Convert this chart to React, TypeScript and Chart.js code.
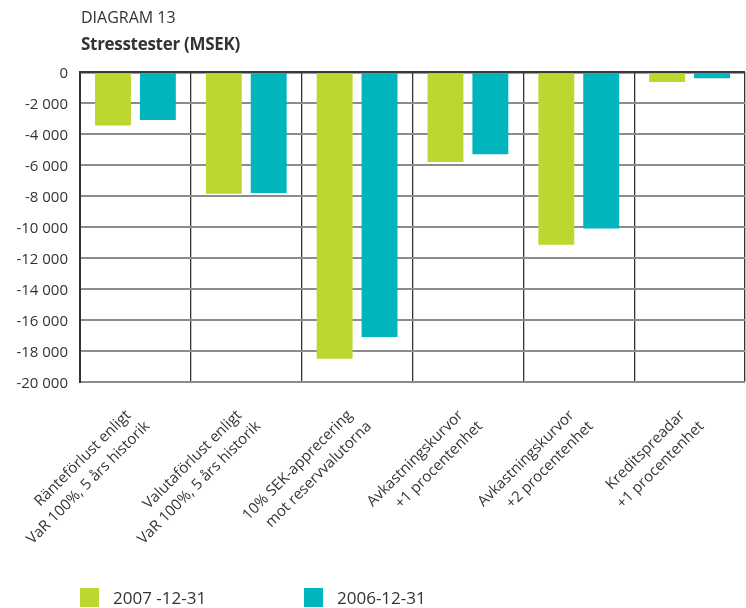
import React, { useEffect, useRef } from 'react';
import { Chart, registerables } from 'chart.js';

Chart.register(...registerables);

const categories: string[][] = [
  ['Ränteförlust enligt', 'VaR 100%, 5 års historik'],
  ['Valutaförlust enligt', 'VaR 100%, 5 års historik'],
  ['10% SEK-apprecering', 'mot reservvalutorna'],
  ['Avkastningskurvor', '+1 procentenhet'],
  ['Avkastningskurvor', '+2 procentenhet'],
  ['Kreditspreadar', '+1 procentenhet'],
];

const values2007 = [-3450, -7850, -18500, -5800, -11150, -650];
const values2006 = [-3100, -7800, -17100, -5300, -10100, -400];

const seriesNames = ['2007 -12-31', '2006-12-31'];
const seriesColors = ['#BED630', '#00B5BB'];

const titleText = 'DIAGRAM 13';
const subtitleText = 'Stresstester (MSEK)';

const yMin = -20000;
const yMax = 0;
const yStep = 2000;

const TEXT = '#333333';
const FONT = "'Open Sans', 'Noto Sans', sans-serif";

function fmt(v: number): string {
  const s = String(Math.abs(v)).replace(/\B(?=(\d{3})+(?!\d))/g, ' ');
  return v < 0 ? '-' + s : s;
}

const labelPlugin = {
  id: 'rotatedLabels',
  afterDraw(chart: any) {
    const ctx = chart.ctx;
    const xScale = chart.scales.x;
    const bottom = chart.chartArea.bottom;
    ctx.save();
    ctx.fillStyle = TEXT;
    ctx.font = `15px ${FONT}`;
    ctx.textAlign = 'right';
    ctx.textBaseline = 'alphabetic';
    categories.forEach((lines, i) => {
      const x = xScale.getPixelForTick(i);
      lines.forEach((line, j) => {
        ctx.save();
        ctx.translate(x - 4 + j * 19, bottom + 34 + j * 11);
        ctx.rotate(-Math.PI / 4);
        ctx.fillText(line, 0, 0);
        ctx.restore();
      });
    });
    ctx.restore();
  },
};

export default function App() {
  const ref = useRef<HTMLCanvasElement | null>(null);

  useEffect(() => {
    document.body.style.margin = '0';
    const canvas = ref.current;
    if (!canvas) return;
    const chart = new Chart(canvas, {
      type: 'bar',
      data: {
        labels: categories.map((c) => c.join(' ')),
        datasets: [
          {
            label: seriesNames[0],
            data: values2007,
            backgroundColor: seriesColors[0],
            borderWidth: 0,
            categoryPercentage: 0.81,
            barPercentage: 0.8,
          },
          {
            label: seriesNames[1],
            data: values2006,
            backgroundColor: seriesColors[1],
            borderWidth: 0,
            categoryPercentage: 0.81,
            barPercentage: 0.8,
          },
        ],
      },
      options: {
        responsive: false,
        animation: false,
        devicePixelRatio: 1,
        layout: { padding: { top: 72, left: 0, right: 1, bottom: 0 } },
        plugins: {
          legend: { display: false },
          title: { display: false },
          tooltip: { enabled: false },
        },
        scales: {
          x: {
            grid: {
              offset: true,
              color: '#333333',
              lineWidth: 1.3,
              drawTicks: false,
            },
            border: { display: false },
            ticks: { display: false },
            afterFit: (scale: any) => {
              scale.height = 226;
            },
          },
          y: {
            min: yMin,
            max: yMax,
            grid: {
              color: (c: any) => (c.tick && c.tick.value === 0 ? '#3a3a3a' : '#8c8c8c'),
              lineWidth: (c: any) => (c.tick && c.tick.value === 0 ? 2.5 : 2),
              drawTicks: false,
            },
            border: { display: true, color: '#333333', width: 2 },
            ticks: {
              stepSize: yStep,
              padding: 12,
              labelOffset: 2,
              color: TEXT,
              font: { family: FONT, size: 15 },
              callback: (v: any) => fmt(Number(v)),
            },
            afterFit: (scale: any) => {
              scale.width = 80;
            },
          },
        },
      },
      plugins: [labelPlugin],
    } as any);
    return () => chart.destroy();
  }, []);

  return (
    <div
      style={{
        position: 'absolute',
        left: 0,
        top: 0,
        width: 746,
        height: 608,
        background: '#ffffff',
        fontFamily: FONT,
        color: TEXT,
        overflow: 'hidden',
      }}
    >
      <canvas ref={ref} width={746} height={608} style={{ position: 'absolute', left: 0, top: 0 }} />
      <div style={{ position: 'absolute', left: 81, top: 9, fontSize: 16, lineHeight: '16px', whiteSpace: 'nowrap' }}>
        {titleText}
      </div>
      <div
        style={{
          position: 'absolute',
          left: 81,
          top: 35,
          fontSize: 17,
          lineHeight: '17px',
          fontWeight: 700,
          whiteSpace: 'nowrap',
          letterSpacing: '-0.3px',
        }}
      >
        {subtitleText}
      </div>
      {seriesNames.map((name, i) => (
        <div
          key={name}
          style={{
            position: 'absolute',
            left: i === 0 ? 80 : 304,
            top: 588,
            height: 19,
            display: 'flex',
            alignItems: 'center',
            whiteSpace: 'nowrap',
          }}
        >
          <span style={{ display: 'inline-block', width: 19, height: 19, background: seriesColors[i] }} />
          <span style={{ marginLeft: 14, fontSize: 17, lineHeight: '19px' }}>{name}</span>
        </div>
      ))}
    </div>
  );
}
